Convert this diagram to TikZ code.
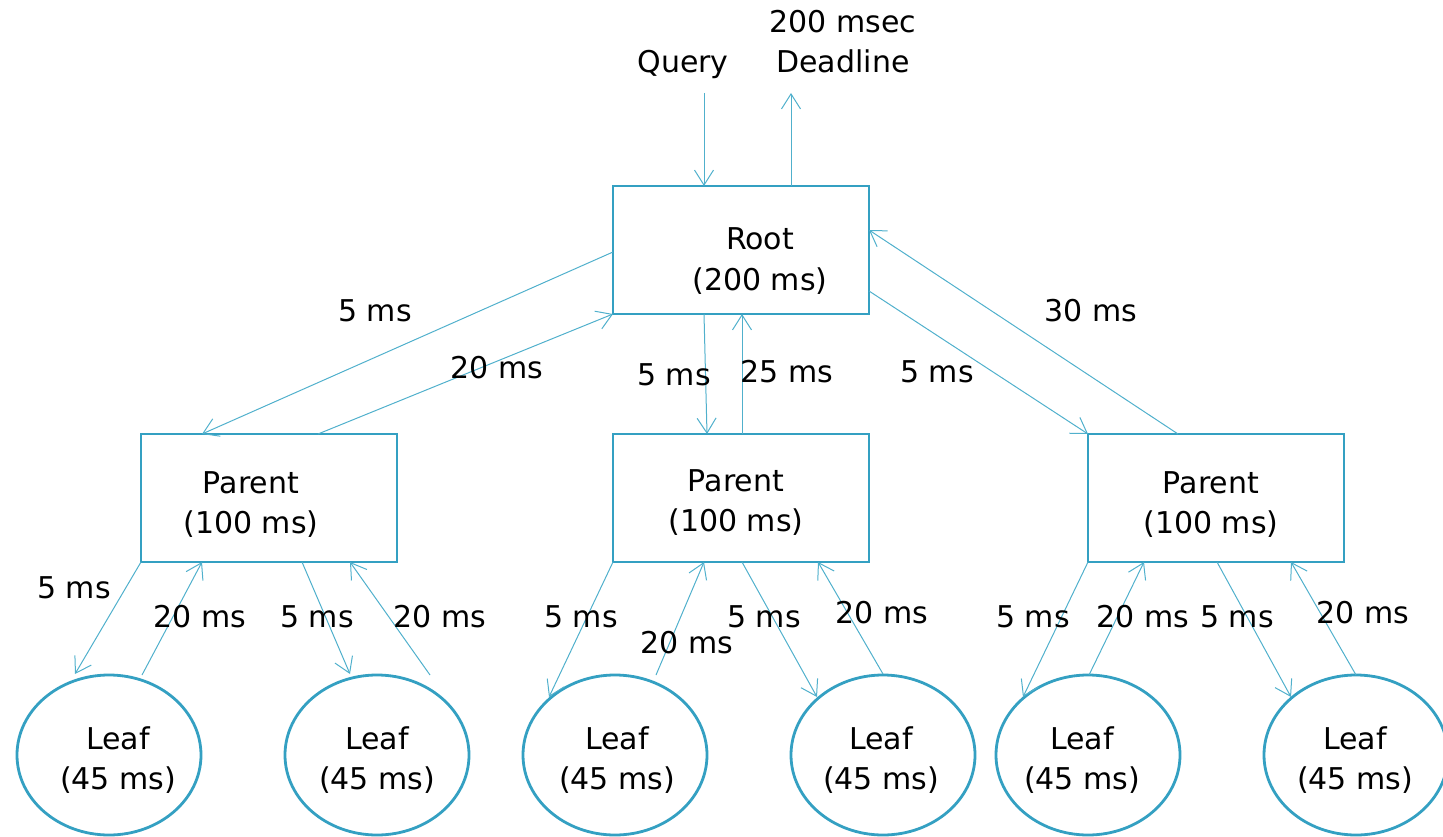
\documentclass[tikz,border=0pt]{standalone}
\usepackage{fontspec}
\setmainfont{DejaVu Sans}
\usetikzlibrary{arrows.meta,shapes.geometric,calc}
\definecolor{edgecol}{RGB}{80,176,204}
\definecolor{boxcol}{RGB}{52,160,194}
\begin{document}
\begin{tikzpicture}[x=1pt,y=-1pt,
  box/.style={draw=boxcol, line width=2.8pt, rectangle, minimum width=256pt, minimum height=128pt, inner sep=0pt, outer sep=0pt},
  leafnode/.style={draw=boxcol, line width=2.8pt, ellipse, minimum width=184pt, minimum height=160pt, inner sep=0pt, outer sep=0pt},
  lbl/.style={font=\fontsize{30}{40}\selectfont, inner sep=0pt, align=center, anchor=base},
  elbl/.style={font=\fontsize{30}{36}\selectfont, inner sep=0pt},
  conn/.style={draw=edgecol, line width=1pt, -{Straight Barb[length=15pt,width=19pt]}}]
\useasboundingbox (0,0) rectangle (1443,837);

% shapes
\node[box] (root) at (741,250) {};
\node[box] (p1) at (269,498) {};
\node[box] (p2) at (741,498) {};
\node[box] (p3) at (1216,498) {};
\node[leafnode] (l1) at (109,755) {};
\node[leafnode] (l2) at (377,755) {};
\node[leafnode] (l3) at (615,755) {};
\node[leafnode] (l4) at (883,755) {};
\node[leafnode] (l5) at (1088,755) {};
\node[leafnode] (l6) at (1356,755) {};

% texts (anchor = baseline of last line)
\node[lbl] (query) at (683,73) {Query};
\node[lbl] (deadline) at (843,73) {200 msec\\Deadline};
\node[lbl] (roott) at (760,290) {Root\\(200 ms)};
\node[lbl] (p1t) at (251,533) {Parent\\(100 ms)};
\node[lbl] (p2t) at (736,531) {Parent\\(100 ms)};
\node[lbl] (p3t) at (1211,533) {Parent\\(100 ms)};
\node[lbl] (l1t) at (118,789) {Leaf\\(45 ms)};
\node[lbl] (l2t) at (377,789) {Leaf\\(45 ms)};
\node[lbl] (l3t) at (617,789) {Leaf\\(45 ms)};
\node[lbl] (l4t) at (881,789) {Leaf\\(45 ms)};
\node[lbl] (l5t) at (1082,789) {Leaf\\(45 ms)};
\node[lbl] (l6t) at (1355,789) {Leaf\\(45 ms)};

% free ends
\coordinate (qstart) at (704,93);
\coordinate (dend) at (791,93);

% root connectors
\draw[conn] (qstart) -- ($(root.north)+(-37,0)$);
\draw[conn] ($(root.north)+(50,0)$) -- (dend);
\draw[conn] ($(root.west)+(0,2)$) -- ($(p1.north west)+(61,0)$);
\draw[conn] ($(p1.north west)+(177,0)$) -- (root.south west);
\draw[conn] ($(root.south)+(-37,0)$) -- ($(p2.north)+(-34,0)$);
\draw[conn] ($(p2.north)+(1,0)$) -- ($(root.south)+(1,0)$);
\draw[conn] ($(root.east)+(0,41)$) -- (p3.north west);
\draw[conn] ($(p3.north west)+(90,0)$) -- ($(root.east)+(0,-20)$);

% parent 1 connectors
\draw[conn] (p1.south west) -- ($(l1.center)+(-34,-81)$);
\draw[conn] ($(l1.center)+(33,-80)$) -- ($(p1.south west)+(61,0)$);
\draw[conn] ($(p1.south west)+(161,0)$) -- ($(l2.center)+(-27,-81)$);
\draw[conn] ($(l2.center)+(53,-80)$) -- ($(p1.south west)+(209,0)$);

% parent 2 connectors
\draw[conn] (p2.south west) -- ($(l3.center)+(-66,-58)$);
\draw[conn] ($(l3.center)+(41,-80)$) -- ($(p2.south west)+(91,0)$);
\draw[conn] ($(p2.south west)+(129,0)$) -- ($(l4.center)+(-66,-58)$);
\draw[conn] ($(l4.center)+(0,-81)$) -- ($(p2.south west)+(205,0)$);

% parent 3 connectors
\draw[conn] (p3.south west) -- ($(l5.center)+(-65,-58)$);
\draw[conn] ($(l5.center)+(1,-80)$) -- ($(p3.south west)+(56,0)$);
\draw[conn] ($(p3.south west)+(129,0)$) -- ($(l6.center)+(-65,-58)$);
\draw[conn] ($(l6.center)+(0,-80)$) -- ($(p3.south west)+(203,0)$);

% edge labels
\node[elbl] (e1) at (375,311) {5 ms};
\node[elbl] (e2) at (497,368) {20 ms};
\node[elbl] (e3) at (674,375) {5 ms};
\node[elbl] (e4) at (787,372) {25 ms};
\node[elbl] (e5) at (937,372) {5 ms};
\node[elbl] (e6) at (1091,311) {30 ms};

\node[elbl] (f1) at (74,588) {5 ms};
\node[elbl] (f2) at (200,617) {20 ms};
\node[elbl] (f3) at (317,617) {5 ms};
\node[elbl] (f4) at (440,617) {20 ms};
\node[elbl] (f5) at (581,617) {5 ms};
\node[elbl] (f6) at (687,643) {20 ms};
\node[elbl] (f7) at (764,617) {5 ms};
\node[elbl] (f8) at (882,613) {20 ms};
\node[elbl] (f9) at (1033,617) {5 ms};
\node[elbl] (f10) at (1143,617) {20 ms};
\node[elbl] (f11) at (1237,617) {5 ms};
\node[elbl] (f12) at (1363,613) {20 ms};
\end{tikzpicture}
\end{document}
